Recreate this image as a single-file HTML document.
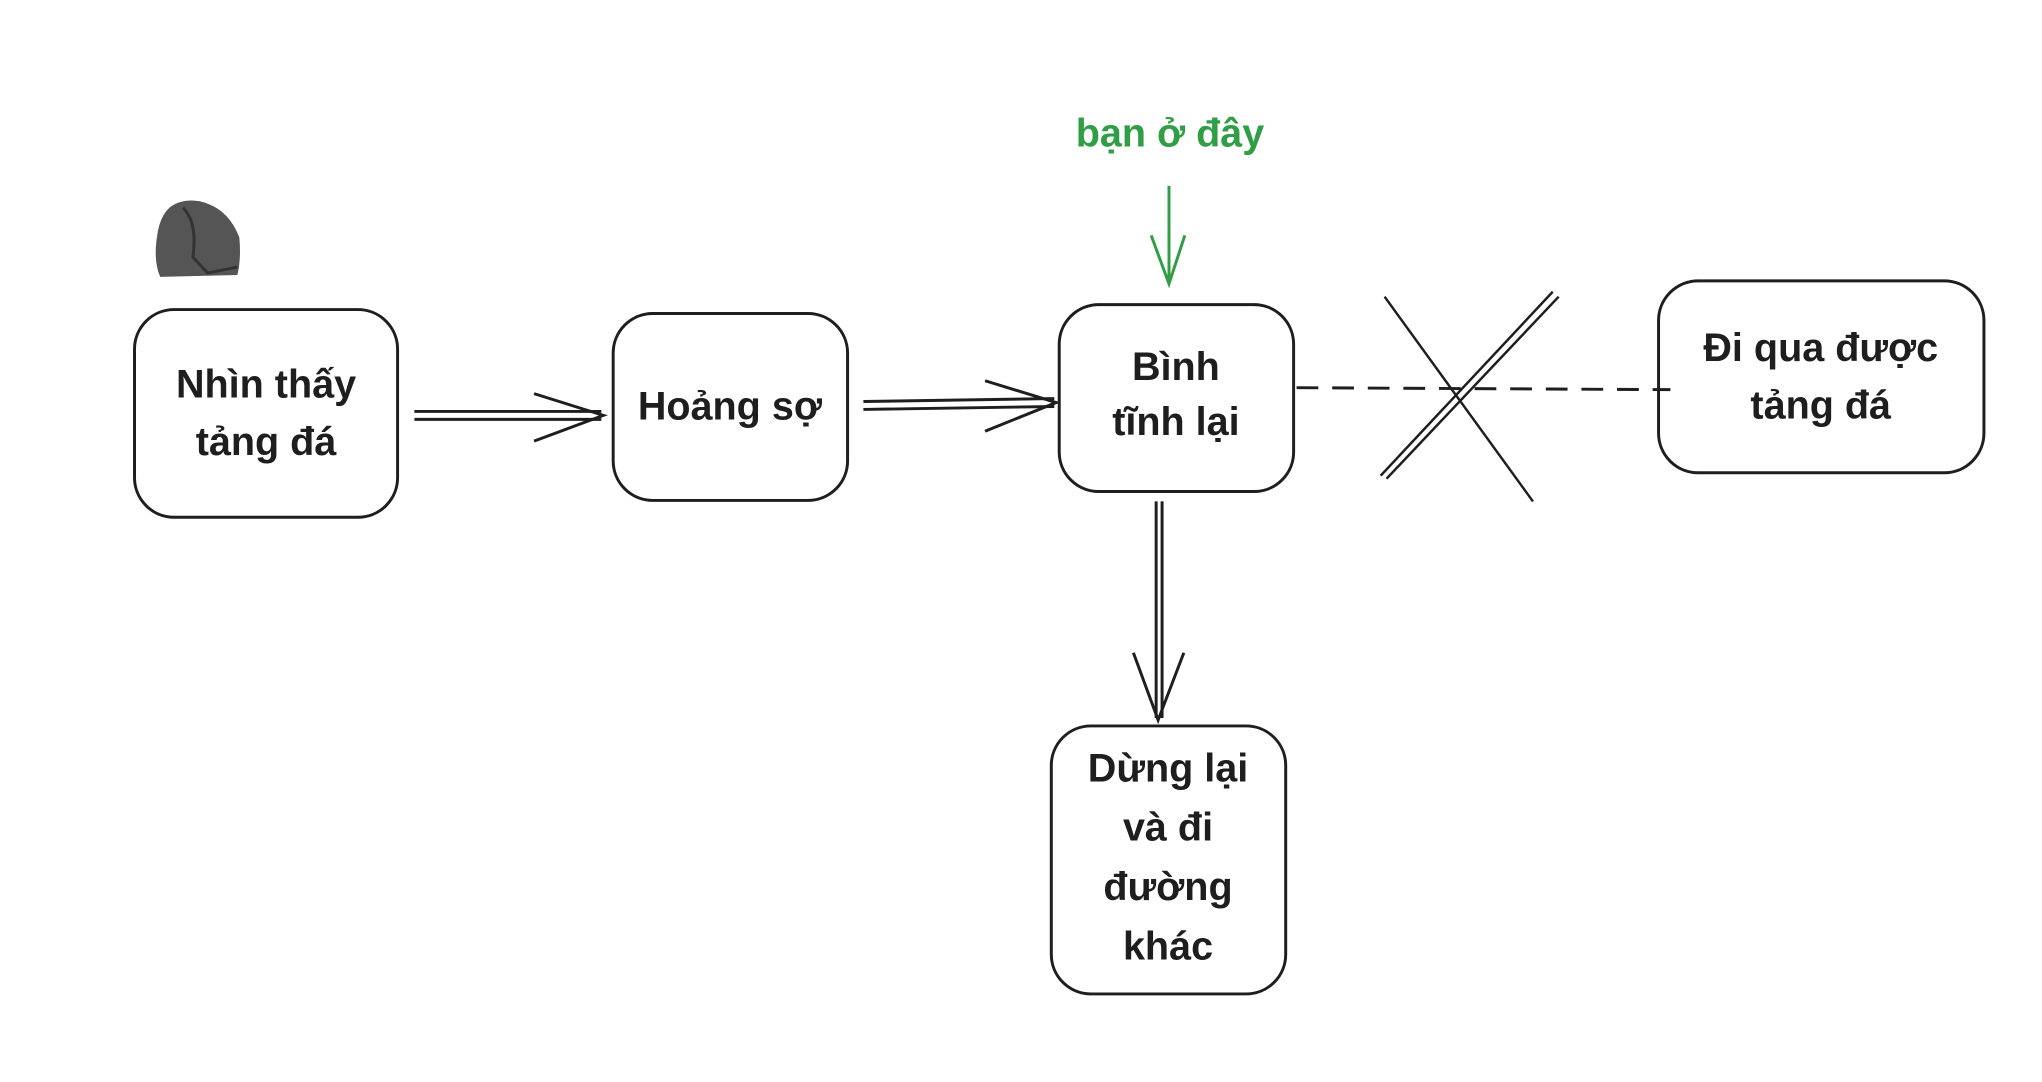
<!DOCTYPE html>
<html><head><meta charset="utf-8"><style>
html,body{margin:0;padding:0;background:#fff;}
svg{display:block}
text{font-family:"Liberation Sans","DejaVu Sans",sans-serif;font-size:40px;fill:#1e1e1e;text-anchor:middle}
</style></head><body>
<svg width="2042" height="1082" viewBox="0 0 2042 1082" xmlns="http://www.w3.org/2000/svg">
<g transform="scale(0.989)">
<g fill="none" stroke="#1e1e1e" stroke-width="3">
<rect x="136" y="313" width="266" height="210" rx="40"/>
<rect x="620" y="317" width="237" height="189" rx="40"/>
<rect x="1071" y="308" width="237" height="189" rx="40"/>
<rect x="1677" y="284" width="329" height="194" rx="40"/>
<rect x="1063" y="734" width="237" height="271" rx="40"/>
<path d="M419 416 L608 416 M419 424 L608 424"/>
<path d="M540 398 L610 420 L540 446"/>
<path d="M873 406 L1066 403 M873 414 L1066 411"/>
<path d="M996 385 L1068 407 L996 436"/>
<path d="M1169 507 L1169 726 M1175 507 L1175 726"/>
<path d="M1146 660 L1171 728 L1197 660"/>
<path d="M1311 392 L1689 394" stroke-dasharray="22 14"/>
<path d="M1400 300 L1550 507 M1570 295 L1396 481 M1576 300 L1402 484" stroke-width="2.5"/>
</g>
<g stroke="#2f9e44" stroke-width="3" fill="none">
<path d="M1182 188 L1182 287 M1164 238 L1182 287 L1198 238"/>
</g>
<path d="M160 232 Q165 210 180 205 Q195 200 210 206 Q232 214 242 240 Q244 262 240 278 L162 280 Q154 262 160 232Z" fill="#555"/>
<path d="M185 210 Q200 225 195 260 L210 276 L240 270" fill="none" stroke="#333" stroke-width="3"/>
<g style="font-weight:bold">
<text x="269" y="402">Nhìn thấy</text>
<text x="269" y="460">tảng đá</text>
<text x="738" y="424">Hoảng sợ</text>
<text x="1189" y="384">Bình</text>
<text x="1189" y="440">tĩnh lại</text>
<text x="1841" y="365">Đi qua được</text>
<text x="1841" y="423">tảng đá</text>
<text x="1181" y="790">Dừng lại</text>
<text x="1181" y="850">và đi</text>
<text x="1181" y="910">đường</text>
<text x="1181" y="970">khác</text>
<text x="1183" y="148" style="fill:#2f9e44">bạn ở đây</text>
</g>
</g>
</svg>
</body></html>
